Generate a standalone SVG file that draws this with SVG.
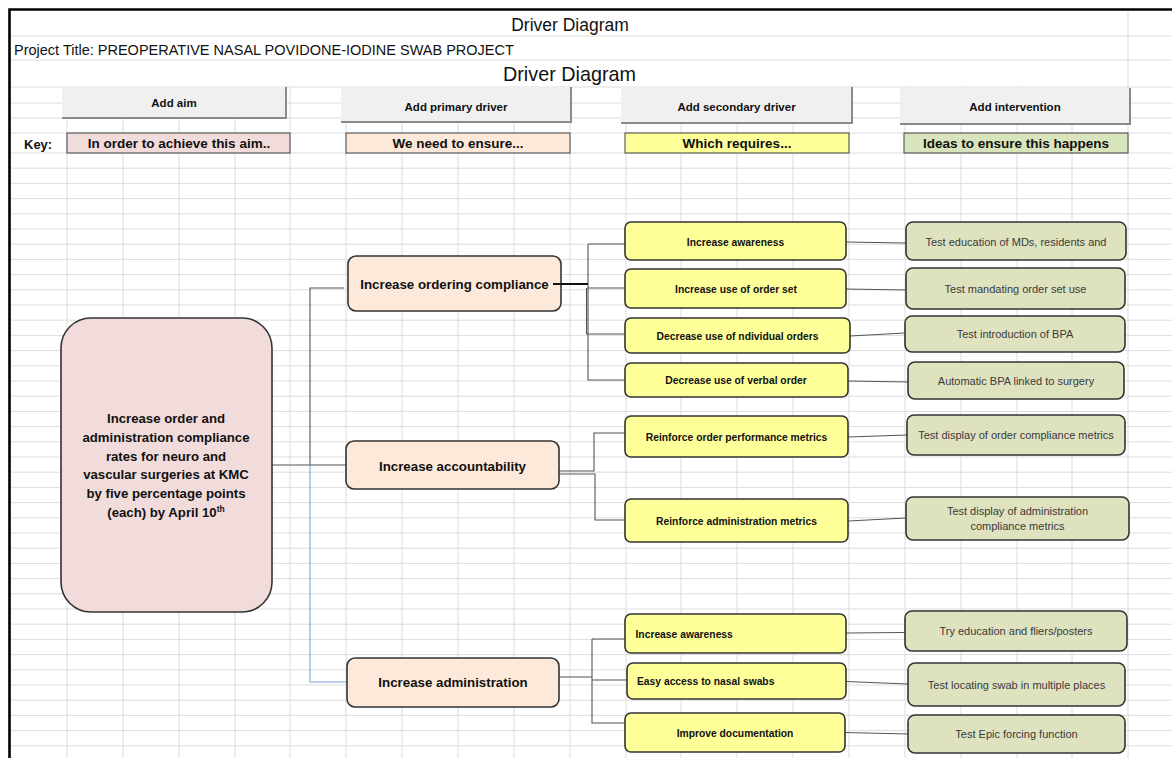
<svg xmlns="http://www.w3.org/2000/svg" width="1172" height="758" viewBox="0 0 1172 758">
<style>
.grid{stroke:#dcdcdc;stroke-width:1;fill:none}
.t{font-family:"Liberation Sans",Arial,sans-serif;fill:#111}
.b{font-weight:bold}
.btn{fill:#f0f0f0}
.shd{fill:none;stroke:#8a8a8a;stroke-width:2}
.key{stroke:#404040;stroke-width:1}
.prim{fill:#fde9d9;stroke:#333;stroke-width:1.6}
.aim{fill:#f2dcdb;stroke:#333;stroke-width:1.6}
.sec{fill:#ffff99;stroke:#333;stroke-width:1.6}
.intv{fill:#dfe2bf;stroke:#333;stroke-width:1.6}
.st{font-size:10.3px;font-weight:bold;text-anchor:middle}
.sl{font-size:10.3px;font-weight:bold;text-anchor:start}
.it{font-size:11px;text-anchor:middle;fill:#3a3a3a}
.pt{font-size:13.3px;font-weight:bold;text-anchor:middle}
.kt{font-size:13.5px;font-weight:bold;text-anchor:middle}
.bt{font-size:11.5px;font-weight:bold;text-anchor:middle}
.c{fill:none;stroke:#555;stroke-width:1.1}
</style>
<rect x="0" y="0" width="1172" height="758" fill="#fff"/>
<g id="grid">
<path class="grid" d="M11,36H1172M11,60H1172M11,87H1172M11,103H1172M11,118H1172M11,133H1172M11,153H1172M11,168.2H1172M11,183.4H1172M11,198.6H1172M11,213.8H1172M11,229H1172M11,244.2H1172M11,259.4H1172M11,274.6H1172M11,289.8H1172M11,305H1172M11,320.2H1172M11,335.4H1172M11,350.6H1172M11,365.8H1172M11,381H1172M11,396.2H1172M11,411.4H1172M11,426.6H1172M11,441.8H1172M11,457H1172M11,472.2H1172M11,487.4H1172M11,502.6H1172M11,517.8H1172M11,533H1172M11,548.2H1172M11,563.4H1172M11,578.6H1172M11,593.8H1172M11,609H1172M11,624.2H1172M11,639.4H1172M11,654.6H1172M11,669.8H1172M11,685H1172M11,700.2H1172M11,715.4H1172M11,730.6H1172M11,745.8H1172"/>
<path class="grid" d="M67,87V758M123,87V758M179,87V758M235,87V758M290,87V758M346,87V758M402,87V758M458,87V758M514,87V758M570,87V758M626,87V758M681,87V758M737,87V758M793,87V758M849,87V758M905,87V758M961,87V758M1017,87V758M1072,87V758M1128,10V758"/>
<path d="M9.5,758V9.5H1172" fill="none" stroke="#000" stroke-width="2.6"/>
</g>
<g id="header">
<text class="t" x="570" y="31" font-size="17.5" text-anchor="middle">Driver Diagram</text>
<text class="t" x="14" y="55" font-size="14.5">Project Title: PREOPERATIVE NASAL POVIDONE-IODINE SWAB PROJECT</text>
<text class="t" x="569.5" y="81" font-size="19.8" text-anchor="middle">Driver Diagram</text>
</g>
<g id="btn-aim">
<rect class="btn" x="62" y="87" width="224" height="31"/>
<path class="shd" d="M286,87V118H62"/>
<text class="t bt" x="174" y="107">Add aim</text>
</g>
<g id="btn-primary">
<rect class="btn" x="341" y="87" width="230" height="35"/>
<path class="shd" d="M571,87V122H341"/>
<text class="t bt" x="456" y="110.5">Add primary driver</text>
</g>
<g id="btn-secondary">
<rect class="btn" x="621" y="87" width="231" height="36"/>
<path class="shd" d="M852,87V123H621"/>
<text class="t bt" x="736.5" y="110.5">Add secondary driver</text>
</g>
<g id="btn-intervention">
<rect class="btn" x="900" y="88" width="230" height="36"/>
<path class="shd" d="M1130,88V124H900"/>
<text class="t bt" x="1015" y="110.5">Add intervention</text>
</g>
<g id="key">
<text class="t b" x="24" y="148.5" font-size="13">Key:</text>
<rect class="key" x="67" y="133" width="223" height="20" fill="#f2dcdb"/>
<text class="t kt" x="179" y="147.8">In order to achieve this aim..</text>
<rect class="key" x="346" y="133" width="224" height="20" fill="#fde9d9"/>
<text class="t kt" x="458" y="147.8">We need to ensure...</text>
<rect class="key" x="625" y="133" width="224" height="20" fill="#ffff99"/>
<text class="t kt" x="737" y="147.8">Which requires...</text>
<rect class="key" x="904" y="133" width="224" height="20" fill="#d8e4bc"/>
<text class="t kt" x="1016" y="147.8">Ideas to ensure this happens</text>
</g>
<g id="connectors">
<path class="c" d="M272,465H346"/>
<path class="c" d="M344,288H310V465"/>
<path fill="none" stroke="#7f9fe0" stroke-width="1.1" d="M310,465V682H347"/>
<path class="c" d="M588,244V380H624M588,244H625M588,288H624M586.5,288V334H624"/>
<path class="c" d="M559,471H594V433H625M559,474H595V520H625"/>
<path class="c" d="M559,677H592M592,639V723H625M592,639H625M592,680H626"/>
<path class="c" d="M846,242L906,243M846,289L906,290M850,336L905,333M848,381L908,382M848,437L907,435M848,521L906,518M846,633L905,632.5M846,681.5L908,684M845,732.5L908,734"/>
</g>
<g id="aim">
<rect class="aim" x="61" y="318" width="211" height="294" rx="30"/>
<text class="t b" font-size="13.2" text-anchor="middle"><tspan x="166" y="423">Increase order and</tspan><tspan x="166" y="441.8">administration compliance</tspan><tspan x="166" y="460.6">rates for neuro and</tspan><tspan x="166" y="479.4">vascular surgeries at KMC</tspan><tspan x="166" y="498.2">by five percentage points</tspan><tspan x="166" y="517">(each) by April 10<tspan dy="-5" font-size="8.5">th</tspan></tspan></text>
</g>
<g id="p-ordering">
<rect class="prim" x="348" y="256" width="213" height="55" rx="8"/>
<text class="t pt" x="454.5" y="288.8">Increase ordering compliance</text>
</g>
<path d="M553,284H588" stroke="#111" stroke-width="1.8"/>
<g id="p-accountability">
<rect class="prim" x="346" y="441" width="213" height="48" rx="8"/>
<text class="t pt" x="452.5" y="470.8">Increase accountability</text>
</g>
<g id="p-administration">
<rect class="prim" x="347" y="658" width="212" height="49" rx="8"/>
<text class="t pt" x="453" y="686.8">Increase administration</text>
</g>
<g id="s1"><rect class="sec" x="625" y="222" width="221" height="38" rx="6"/><text class="t st" x="735.5" y="245.7">Increase awareness</text></g>
<g id="s2"><rect class="sec" x="625" y="269" width="221" height="39" rx="6"/><text class="t st" x="736" y="292.7">Increase use of order set</text></g>
<g id="s3"><rect class="sec" x="625" y="318" width="225" height="35" rx="6"/><text class="t st" x="737.5" y="340">Decrease use of ndividual orders</text></g>
<g id="s4"><rect class="sec" x="625" y="363" width="223" height="34" rx="6"/><text class="t st" x="736" y="383.7">Decrease use of verbal order</text></g>
<g id="s5"><rect class="sec" x="625" y="416" width="223" height="41" rx="6"/><text class="t st" x="736.5" y="440.7">Reinforce order performance metrics</text></g>
<g id="s6"><rect class="sec" x="625" y="499" width="223" height="43" rx="6"/><text class="t st" x="736.5" y="524.7">Reinforce administration metrics</text></g>
<g id="s7"><rect class="sec" x="625" y="614" width="221" height="39" rx="6"/><text class="t sl" x="635.5" y="637.7">Increase awareness</text></g>
<g id="s8"><rect class="sec" x="627" y="663" width="219" height="36" rx="6"/><text class="t sl" x="637" y="684.7">Easy access to nasal swabs</text></g>
<g id="s9"><rect class="sec" x="625" y="713" width="220" height="39" rx="6"/><text class="t st" x="735" y="736.7">Improve documentation</text></g>
<g id="i1"><rect class="intv" x="906" y="222" width="220" height="38" rx="7"/><text class="t it" x="1016" y="246">Test education of MDs, residents and</text></g>
<g id="i2"><rect class="intv" x="906" y="268" width="219" height="41" rx="7"/><text class="t it" x="1015.5" y="293">Test mandating order set use</text></g>
<g id="i3"><rect class="intv" x="905" y="316" width="220" height="36" rx="7"/><text class="t it" x="1015" y="338">Test introduction of BPA</text></g>
<g id="i4"><rect class="intv" x="908" y="362" width="216" height="37" rx="7"/><text class="t it" x="1016" y="385">Automatic BPA linked to surgery</text></g>
<g id="i5"><rect class="intv" x="907" y="415" width="218" height="40" rx="7"/><text class="t it" x="1016" y="439">Test display of order compliance metrics</text></g>
<g id="i6"><rect class="intv" x="906" y="497" width="223" height="43" rx="7"/><text class="t it" x="1017.5" y="515">Test display of administration</text><text class="t it" x="1017.5" y="530">compliance metrics</text></g>
<g id="i7"><rect class="intv" x="905" y="611" width="222" height="40" rx="7"/><text class="t it" x="1016" y="635">Try education and fliers/posters</text></g>
<g id="i8"><rect class="intv" x="908" y="663" width="217" height="43" rx="7"/><text class="t it" x="1016.5" y="689">Test locating swab in multiple places</text></g>
<g id="i9"><rect class="intv" x="908" y="715" width="217" height="38" rx="7"/><text class="t it" x="1016.5" y="738">Test Epic forcing function</text></g>
</svg>
